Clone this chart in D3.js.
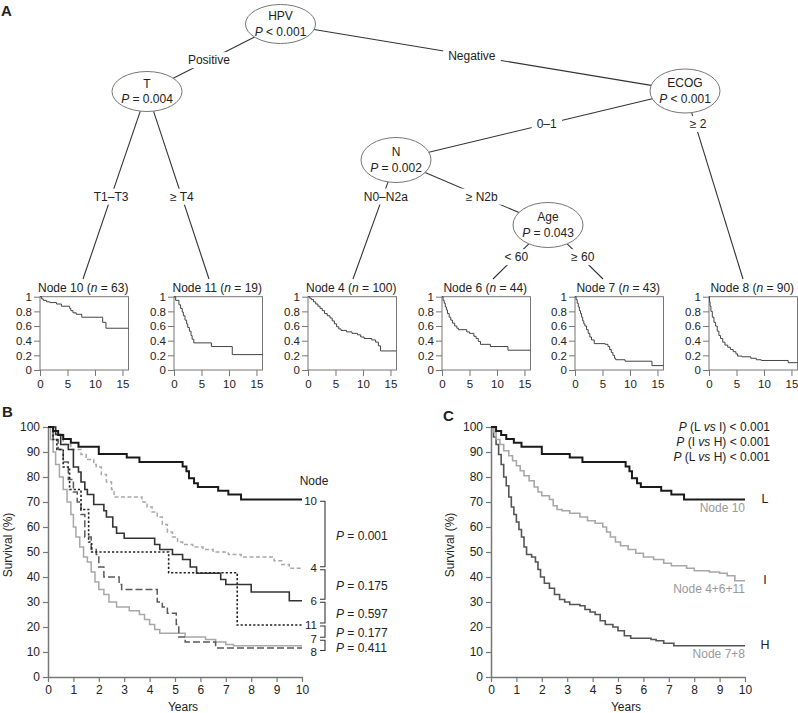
<!DOCTYPE html>
<html><head><meta charset="utf-8">
<script src="https://cdn.jsdelivr.net/npm/d3@7"></script>
<style>
body{margin:0;background:#fff}
text{font-family:"Liberation Sans",Arial,Helvetica,sans-serif;fill:#222}
</style>
</head><body>
<svg id="c" width="798" height="713"></svg>
<script>
// ---------------- DATA ----------------
// Tree (panel A)
const splitVars = ["HPV", "T", "ECOG", "N", "Age"];
const splitP = ["< 0.001", "= 0.004", "< 0.001", "= 0.002", "= 0.043"];
const leafNames = ["Node 10", "Node 11", "Node 4", "Node 6", "Node 7", "Node 8"];
const leafN = [63, 19, 100, 44, 43, 90];
const edgeFrom = ["HPV", "HPV", "T", "T", "ECOG", "ECOG", "N", "N", "Age", "Age"];
const edgeTo = ["T", "ECOG", "Node 10", "Node 11", "N", "Node 8", "Node 4", "Age", "Node 6", "Node 7"];
const edgeLabels = ["Positive", "Negative", "T1–T3", "≥ T4", "0–1", "≥ 2", "N0–N2a", "≥ N2b", "< 60", "≥ 60"];

// Small KM curves in panel A (survival proportion vs years)
const km10 = [[0,1],[0.3,0.97],[0.6,0.95],[1.2,0.93],[1.8,0.92],[3.0,0.9],[3.9,0.87],[5.4,0.84],[5.6,0.81],[6.0,0.78],[6.6,0.76],[7.6,0.72],[11.4,0.65],[12.0,0.57]];
const km11 = [[0,1],[0.3,0.95],[0.9,0.89],[1.2,0.84],[1.5,0.79],[1.7,0.74],[2.0,0.68],[2.3,0.63],[2.5,0.58],[2.8,0.53],[3.1,0.47],[3.3,0.42],[3.6,0.37],[6.8,0.32],[10.6,0.21]];
const km4 = [[0,1],[0.3,0.98],[0.6,0.96],[1.0,0.93],[1.4,0.9],[1.8,0.87],[2.2,0.84],[2.6,0.81],[3.0,0.77],[3.5,0.74],[4.0,0.71],[4.4,0.67],[4.8,0.63],[5.2,0.59],[5.6,0.56],[6.0,0.54],[7.0,0.52],[8.0,0.5],[9.0,0.48],[9.6,0.45],[10.2,0.43],[11.6,0.41],[12.3,0.38],[12.8,0.33],[13.2,0.26]];
const km6 = [[0,1],[0.2,0.95],[0.4,0.91],[0.6,0.86],[0.8,0.82],[1.0,0.77],[1.3,0.72],[1.6,0.68],[1.9,0.64],[2.3,0.6],[2.7,0.57],[3.0,0.55],[4.5,0.52],[5.0,0.5],[5.8,0.46],[6.2,0.43],[6.6,0.39],[7.0,0.35],[8.8,0.32],[12.0,0.27]];
const km7 = [[0,1],[0.2,0.96],[0.4,0.91],[0.6,0.86],[0.8,0.81],[1.0,0.77],[1.2,0.72],[1.4,0.67],[1.6,0.63],[1.8,0.6],[2.1,0.55],[2.4,0.5],[2.7,0.45],[3.0,0.41],[3.5,0.36],[5.5,0.35],[6.0,0.32],[6.3,0.28],[6.6,0.24],[6.9,0.2],[7.2,0.16],[7.4,0.14],[9.1,0.12],[14.0,0.06]];
const km8 = [[0,1],[0.1,0.93],[0.2,0.87],[0.35,0.8],[0.6,0.72],[0.9,0.65],[1.2,0.6],[1.5,0.53],[1.8,0.47],[2.1,0.43],[2.5,0.38],[2.9,0.34],[3.4,0.31],[3.9,0.28],[4.4,0.25],[4.9,0.22],[5.2,0.19],[6.0,0.18],[7.6,0.16],[8.6,0.14],[9.5,0.13],[14.4,0.1]];
const smallYTicks = [0, 0.2, 0.4, 0.6, 0.8, 1];
const smallYTickLabels = ["0", "0.2", "0.4", "0.6", "0.8", "1"];
const smallXTicks = [0, 5, 10, 15];

// Panel B (survival % vs years)
const bNode10 = [[0,100],[0.2,98.4],[0.4,96.8],[0.6,95.2],[0.9,93.7],[1.2,92.1],[2.0,89.2],[3.1,87.8],[3.6,86],[5.3,84.2],[5.45,82.3],[5.55,79.5],[5.75,77.5],[5.9,76],[6.7,74.5],[7.1,73],[7.6,71]];
const bNode4 = [[0,100],[0.3,97],[0.6,93],[0.9,91],[1.3,89],[1.5,87],[1.8,85],[1.9,84],[2.1,81],[2.3,78],[2.5,75],[2.6,72],[3.7,70],[3.9,68],[4.1,66],[4.3,64],[4.5,61],[4.7,58],[4.9,56],[5.1,54],[5.3,53],[5.7,52],[6.1,51],[6.5,50],[7.1,49],[7.6,48],[8.9,46.5],[9.2,45],[9.5,43.5]];
const bNode6 = [[0,100],[0.3,97],[0.5,93],[0.8,91],[1.0,84],[1.2,82],[1.3,78],[1.45,75],[1.55,73],[1.8,69],[2.2,66.5],[2.3,64],[2.55,60],[2.7,57.5],[3.0,55.5],[4.2,53],[4.4,51],[4.9,49],[5.3,47],[5.6,44],[5.85,41.5],[6.8,39],[7.0,37],[8.0,34],[9.5,30.5]];
const bNode11 = [[0,100],[0.2,95],[0.35,91],[0.6,84],[0.85,75],[1.3,67],[1.6,54],[1.72,50],[4.75,41.7],[7.45,20.8]];
const bNode7 = [[0,100],[0.2,95],[0.4,91],[0.6,86],[0.8,79],[1.0,74],[1.15,70],[1.3,65],[1.45,56],[1.7,51],[1.9,49],[2.0,44],[2.2,40],[2.8,37],[2.9,35],[4.3,30],[4.5,28],[4.7,25.5],[5.05,21],[5.15,16],[5.4,14],[6.6,11.6]];
const bNode8 = [[0,100],[0.1,95],[0.2,90],[0.3,85],[0.45,80],[0.6,75],[0.75,70],[0.9,65],[1.0,60],[1.1,56],[1.25,52],[1.4,48],[1.55,46],[1.7,42],[1.85,38],[2.0,35],[2.2,33],[2.4,30],[2.7,28],[3.2,26.5],[3.6,25],[3.8,23],[4.0,21],[4.2,19],[4.4,17.5],[5.4,16],[6.2,15],[6.6,14],[7.0,13],[7.3,12.5]];
const bNodeNames = ["10", "4", "6", "11", "7", "8"];
const bLabelSurvival = [70.3, 43.5, 30.5, 21, 15.3, 10];
const bPairP = ["0.001", "0.175", "0.597", "0.177", "0.411"];

// Panel C
const cLow = bNode10;
const cInter = [[0,100],[0.1,98],[0.2,95],[0.35,93],[0.5,90.5],[0.7,88.5],[0.85,86.5],[1.0,84.5],[1.15,82.5],[1.3,80.5],[1.5,78.5],[1.7,76],[1.85,74],[2.0,72.5],[2.3,71],[2.45,68.5],[2.6,67],[2.8,66.5],[3.1,65.5],[3.5,64],[3.8,62.5],[4.1,61.5],[4.4,60],[4.55,58],[4.7,56],[4.9,54],[5.1,52.5],[5.4,51],[5.7,49.5],[6.0,48],[6.4,47],[6.8,45.5],[7.1,44.5],[7.7,43.5],[8.0,42.5],[8.6,42],[9.0,41.5],[9.3,40.5],[9.6,38.5]];
const cHigh = [[0,100],[0.1,96],[0.2,93],[0.3,89],[0.4,85],[0.5,80],[0.6,76.5],[0.7,72],[0.8,68],[0.9,65],[1.0,62],[1.1,59],[1.2,56],[1.3,52],[1.4,49],[1.6,48],[1.75,46],[1.85,43],[1.95,40],[2.1,37.5],[2.3,35.5],[2.5,33],[2.7,31],[2.9,30],[3.1,29],[3.5,28.5],[3.7,27],[3.9,26],[4.1,25],[4.3,22.5],[4.5,21],[4.8,20],[5.0,18.5],[5.25,16.5],[5.5,15.5],[6.3,15],[6.5,14.5],[6.8,13.5],[7.2,12.5]];
const cGroupLetters = ["L", "I", "H"];
const cGroupNodes = ["Node 10", "Node 4+6+11", "Node 7+8"];
const cLetterSurvival = [71.3, 38.8, 12.8];
const cPTexts = ["_P_ (L _vs_ I) < 0.001", "_P_ (I _vs_ H) < 0.001", "_P_ (L _vs_ H) < 0.001"];

const yearTicks = d3.range(0, 11);
const survTicks = d3.range(0, 101, 10);

// ---------------- DRAWING ----------------
const svg = d3.select("#c");

function rich(sel, x, y, str, o = {}) {
  const t = sel.append("text").attr("x", x).attr("y", y)
    .attr("font-size", o.size || 12)
    .attr("text-anchor", o.anchor || "middle")
    .attr("dominant-baseline", o.baseline || "central");
  if (o.fill) t.style("fill", o.fill);
  if (o.weight) t.attr("font-weight", o.weight);
  str.split("_").forEach((s, i) => {
    if (!s) return;
    const ts = t.append("tspan").text(s);
    if (i % 2 === 1) ts.attr("font-style", "italic");
  });
  return t;
}

// Panel letters
rich(svg, 1, 16, "A", {anchor: "start", baseline: "auto", size: 15, weight: "bold"});
rich(svg, 2, 417, "B", {anchor: "start", baseline: "auto", size: 15, weight: "bold"});
rich(svg, 443, 421, "C", {anchor: "start", baseline: "auto", size: 15, weight: "bold"});

// ---- Panel A: tree ----
const splitPos = {HPV: [280.5, 24, 19.5], T: [147, 91.5, 20], ECOG: [685, 91, 22], N: [396, 160, 22.5], Age: [548, 225, 22.5]};
const RX = 35;
const leafLeft = [40, 174, 308, 442, 575, 709];
const leafAnchorX = [83, 209, 353, 493, 603, 743];
const leafAnchorY = 279;
const labelT = [0.536, 0.473, 0.561, 0.561, 0.4785, 0.175, 0.307, 0.564, 0.595, 0.595];
const labelDx = [0, 0, 0, 0, 0, 3, 3, 0, 1, 2];

const gEdges = svg.append("g");
const gLabels = svg.append("g");
edgeFrom.forEach((f, i) => {
  const to = edgeTo[i];
  const [px, py, pry] = splitPos[f];
  const isSplit = splitPos[to] !== undefined;
  let tx, ty;
  if (isSplit) { tx = splitPos[to][0]; ty = splitPos[to][1]; }
  else { tx = leafAnchorX[leafNames.indexOf(to)]; ty = leafAnchorY; }
  const dx = tx - px, dy = ty - py;
  const s0 = 1 / Math.sqrt((dx / RX) ** 2 + (dy / pry) ** 2);
  const s1 = isSplit ? 1 - 1 / Math.sqrt((dx / RX) ** 2 + (dy / splitPos[to][2]) ** 2) : 1;
  gEdges.append("line")
    .attr("x1", px + dx * s0).attr("y1", py + dy * s0)
    .attr("x2", px + dx * s1).attr("y2", py + dy * s1)
    .attr("stroke", "#333").attr("stroke-width", 1.1);
  const lx = px + dx * labelT[i] + labelDx[i], ly = py + dy * labelT[i];
  const lg = gLabels.append("g");
  const bg = lg.append("rect").attr("fill", "#fff");
  const t = rich(lg, lx, ly, edgeLabels[i], {size: 12});
  const bb = t.node().getBBox();
  bg.attr("x", bb.x - 5).attr("y", bb.y - 1).attr("width", bb.width + 10).attr("height", bb.height + 2);
});

splitVars.forEach((v, i) => {
  const [cx, cy, ry] = splitPos[v];
  svg.append("ellipse").attr("cx", cx).attr("cy", cy).attr("rx", RX).attr("ry", ry)
    .attr("fill", "#fff").attr("stroke", "#777").attr("stroke-width", 1);
  rich(svg, cx, cy - 8, v, {size: 12});
  rich(svg, cx, cy + 7.5, "_P_ " + splitP[i], {size: 12});
});

// Small KM plots
const smallKM = [km10, km11, km4, km6, km7, km8];
const sTop = 296.7, sBottom = 370, sW = 88.5, sXMax = 16.1;
leafNames.forEach((name, i) => {
  const left = leafLeft[i];
  const xs = d3.scaleLinear([0, sXMax], [left, left + sW]);
  const ys = d3.scaleLinear([0, 1], [sBottom, sTop]);
  const g = svg.append("g");
  rich(g, left + sW / 2 - 1, 287.5, name + " (_n_ = " + leafN[i] + ")", {size: 12});
  g.append("rect").attr("x", left).attr("y", sTop).attr("width", sW).attr("height", sBottom - sTop)
    .attr("fill", "none").attr("stroke", "#777").attr("stroke-width", 1);
  const ya = g.append("g").attr("transform", `translate(${left},0)`)
    .call(d3.axisLeft(ys).tickValues(smallYTicks).tickFormat((d, j) => smallYTickLabels[j]).tickSize(6).tickSizeOuter(0).tickPadding(2));
  const xa = g.append("g").attr("transform", `translate(0,${sBottom})`)
    .call(d3.axisBottom(xs).tickValues(smallXTicks).tickSize(6).tickSizeOuter(0).tickPadding(4));
  [ya, xa].forEach(a => {
    a.select(".domain").remove();
    a.selectAll("line").attr("stroke", "#777");
    a.selectAll("text").attr("font-size", 11.5).attr("font-family", null).style("fill", "#222");
  });
  const data = smallKM[i].concat([[sXMax, smallKM[i][smallKM[i].length - 1][1]]]);
  g.append("path").datum(data)
    .attr("d", d3.line().x(d => xs(d[0])).y(d => ys(d[1])).curve(d3.curveStepAfter))
    .attr("fill", "none").attr("stroke", "#444").attr("stroke-width", 1);
});

// ---- Panels B and C ----
const yS = d3.scaleLinear([0, 100], [677, 427]);
function kmPanel(x0, x1, labelX) {
  const xs = d3.scaleLinear([0, 10], [x0, x1]);
  const g = svg.append("g");
  const ya = g.append("g").attr("transform", `translate(${x0},0)`)
    .call(d3.axisLeft(yS).tickValues(survTicks).tickSize(5).tickSizeOuter(0).tickPadding(3));
  const xa = g.append("g").attr("transform", `translate(0,677)`)
    .call(d3.axisBottom(xs).tickValues(yearTicks).tickSize(5).tickSizeOuter(0).tickPadding(3));
  [ya, xa].forEach(a => {
    a.select(".domain").attr("stroke", "#777").attr("stroke-width", 1.5);
    a.selectAll("line").attr("stroke", "#777").attr("stroke-width", 1.2);
    a.selectAll("text").attr("font-size", 12).attr("font-family", null).style("fill", "#222");
  });
  rich(g, (x0 + x1) / 2 + 8, 707, "Years", {size: 12});
  rich(g, 0, 0, "Survival (%)", {size: 12}).attr("transform", `translate(${labelX},545) rotate(-90)`);
  return {g, xs};
}
function drawCurve(g, xs, data, color, width, dash) {
  const d = data.concat([[10, data[data.length - 1][1]]]);
  const p = g.append("path").datum(d)
    .attr("d", d3.line().x(v => xs(v[0])).y(v => yS(v[1])).curve(d3.curveStepAfter))
    .attr("fill", "none").attr("stroke", color).attr("stroke-width", width);
  if (dash) p.attr("stroke-dasharray", dash);
}

// Panel B
const B = kmPanel(48, 302, 8);
drawCurve(B.g, B.xs, bNode8, "#a8a8a8", 1.5);
drawCurve(B.g, B.xs, bNode7, "#5a5a5a", 1.5, "7,3");
drawCurve(B.g, B.xs, bNode4, "#a8a8a8", 1.5, "4,2.5");
drawCurve(B.g, B.xs, bNode11, "#222", 1.6, "2.2,2");
drawCurve(B.g, B.xs, bNode6, "#333", 1.6);
drawCurve(B.g, B.xs, bNode10, "#1a1a1a", 2);

rich(B.g, 314, 481, "Node", {size: 12});
const labY = bLabelSurvival.map(v => yS(v));
bNodeNames.forEach((n, i) => rich(B.g, 317, labY[i], n, {anchor: "end", size: 11.5}));
const brX = 325;
bPairP.forEach((p, i) => {
  const ya = labY[i] + (i === 0 ? 0 : 1.5), yb = labY[i + 1] - 1.5;
  B.g.append("path").attr("d", `M${brX - 5},${ya}H${brX}V${yb}H${brX - 5}`)
    .attr("fill", "none").attr("stroke", "#333").attr("stroke-width", 1.1);
  const my = i === 4 ? (labY[i] + labY[i + 1]) / 2 + 3 : (labY[i] + labY[i + 1]) / 2 + 1.5;
  rich(B.g, 336, my, "_P_ = " + p, {anchor: "start", size: 12});
});

// Panel C
const C = kmPanel(491, 745, 450);
drawCurve(C.g, C.xs, cHigh, "#555", 1.6);
drawCurve(C.g, C.xs, cInter, "#a8a8a8", 1.6);
drawCurve(C.g, C.xs, cLow, "#1a1a1a", 2);
cPTexts.forEach((t, i) => rich(C.g, 770, 427 + i * 15, t, {anchor: "end", size: 12}));
cGroupLetters.forEach((l, i) => {
  const y = yS(cLetterSurvival[i]);
  rich(C.g, 765, y, l, {size: 12.5});
  rich(C.g, 745, y + 9, cGroupNodes[i], {anchor: "end", size: 12, fill: "#999"});
});
</script>
</body></html>
